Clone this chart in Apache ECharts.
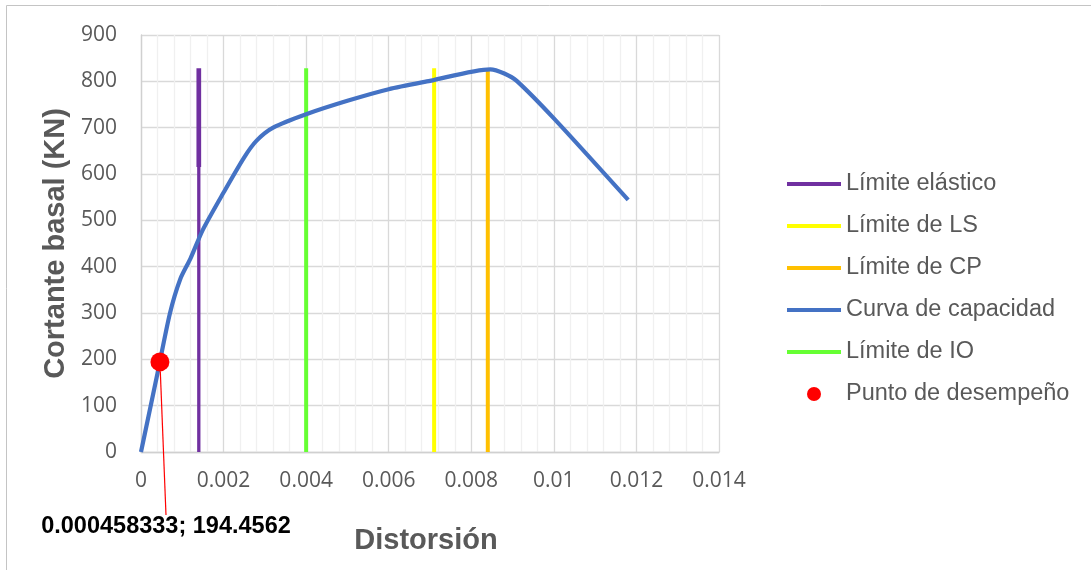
<!DOCTYPE html>
<html>
<head>
<meta charset="utf-8">
<script src="https://cdn.jsdelivr.net/npm/echarts@6/dist/echarts.min.js"></script>
<style>
  html, body { margin: 0; padding: 0; background: #ffffff; }
  #chart { width: 1091px; height: 570px; }
</style>
</head>
<body>
<div id="chart"></div>
<script>
// Axis ticks
const driftTicks = [0, 0.002, 0.004, 0.006, 0.008, 0.01, 0.012, 0.014];
const shearTicks = [0, 100, 200, 300, 400, 500, 600, 700, 800, 900];

// Capacity curve (drift, base shear in kN)
const curveDrift = [0, 0.0004, 0.0007, 0.00095, 0.0012, 0.0015, 0.002, 0.0025, 0.0028, 0.0032, 0.004, 0.005, 0.006, 0.007, 0.00846, 0.0088, 0.0091, 0.01, 0.0118];
const curveShear = [0, 170, 299, 373, 418, 480, 560, 636, 672, 700, 729, 758, 783, 801, 826, 817, 801, 720, 544];

// Performance limits (drift) and their drawn height
const elasticLimit = 0.0014;
const ioLimit = 0.004;
const lsLimit = 0.0071;
const cpLimit = 0.0084;
const limitTop = 828;
const elasticBreak = 615;

// Performance point
const perfDrift = 0.000458333;
const perfShear = 194.4562;

const TXT = '#595959';

function vline(x, y0, y1) { return [[x, y0], [x, y1]]; }

function limitSeries(name, data, color, width) {
  return {
    name: name,
    type: 'line',
    data: data,
    symbol: 'none',
    lineStyle: { color: color, width: width },
    itemStyle: { color: color },
    z: 2
  };
}

// legend entry drawn as a plain line, no marker
function lineEntry(name) {
  return { name: name, itemStyle: { opacity: 0 }, lineStyle: { width: 4 } };
}

const chart = echarts.init(document.getElementById('chart'), null, { renderer: 'canvas' });

chart.setOption({
  backgroundColor: '#ffffff',
  animation: false,
  graphic: [{
    type: 'rect',
    shape: { x: 6.5, y: 5.5, width: 1300, height: 800 },
    style: { fill: 'none', stroke: '#c4c4c4', lineWidth: 1 },
    silent: true,
    z: -10
  }],
  grid: { left: 141, top: 35, width: 578, height: 417, containLabel: false },
  legend: {
    orient: 'vertical',
    left: 785,
    top: 172,
    padding: 0,
    itemWidth: 54,
    itemHeight: 14,
    itemGap: 18,
    textStyle: { fontFamily: 'Liberation Sans, Arial, sans-serif', fontSize: 23.5, color: TXT },
    data: [
      lineEntry('Límite elástico'),
      lineEntry('Límite de LS'),
      lineEntry('Límite de CP'),
      lineEntry('Curva de capacidad'),
      lineEntry('Límite de IO'),
      { name: 'Punto de desempeño', icon: 'circle', itemStyle: { color: '#ff0000' } }
    ]
  },
  xAxis: {
    type: 'value',
    min: driftTicks[0],
    max: driftTicks[driftTicks.length - 1],
    interval: driftTicks[1] - driftTicks[0],
    name: 'Distorsión',
    nameLocation: 'middle',
    nameGap: 74,
    nameTextStyle: { fontFamily: 'Liberation Sans, Arial, sans-serif', fontSize: 29, fontWeight: 'bold', color: TXT, padding: [0, 8, 0, 0] },
    axisLine: { show: true, lineStyle: { color: '#d0d0d0', width: 1.3 } },
    axisTick: { show: false },
    minorTick: { show: false, splitNumber: 5 },
    splitLine: { show: true, lineStyle: { color: '#d9d9d9', width: 1.3 } },
    minorSplitLine: { show: true, lineStyle: { color: '#f0f0f0', width: 1.3 } },
    axisLabel: {
      margin: 19,
      fontFamily: 'Open Sans, sans-serif',
      fontSize: 21,
      color: TXT,
      formatter: function (v) { return String(+v.toFixed(3)); }
    }
  },
  yAxis: {
    type: 'value',
    min: shearTicks[0],
    max: shearTicks[shearTicks.length - 1],
    interval: shearTicks[1] - shearTicks[0],
    name: 'Cortante basal (KN)',
    nameLocation: 'middle',
    nameRotate: 90,
    nameGap: 61,
    nameTextStyle: { fontFamily: 'Liberation Sans, Arial, sans-serif', fontSize: 29, fontWeight: 'bold', color: TXT },
    axisLine: { show: true, lineStyle: { color: '#d0d0d0', width: 1.3 } },
    axisTick: { show: false },
    splitLine: { show: true, lineStyle: { color: '#d9d9d9', width: 1.3 } },
    axisLabel: { margin: 24, fontFamily: 'Open Sans, sans-serif', fontSize: 21, color: TXT }
  },
  series: [
    limitSeries('Límite elástico', vline(elasticLimit, 0, elasticBreak), '#7030a0', 3.3),
    limitSeries('Límite elástico', vline(elasticLimit, elasticBreak, limitTop), '#7030a0', 4.7),
    limitSeries('Límite de LS', vline(lsLimit, 0, limitTop), '#ffff00', 4),
    limitSeries('Límite de CP', vline(cpLimit, 0, limitTop), '#ffc000', 4),
    {
      name: 'Curva de capacidad',
      type: 'line',
      data: curveDrift.map(function (x, i) { return [x, curveShear[i]]; }),
      symbol: 'none',
      smooth: 0.25,
      lineStyle: { color: '#4472c4', width: 4.2 },
      itemStyle: { color: '#4472c4' },
      z: 3
    },
    limitSeries('Límite de IO', vline(ioLimit, 0, limitTop), '#66ff33', 4),
    {
      name: 'Punto de desempeño',
      type: 'scatter',
      data: [[perfDrift, perfShear]],
      symbol: 'circle',
      symbolSize: 19,
      itemStyle: { color: '#ff0000', opacity: 1 },
      z: 5,
      label: {
        show: true,
        formatter: function (p) { return p.value[0] + '; ' + p.value[1]; },
        fontFamily: 'Liberation Sans, Arial, sans-serif',
        fontSize: 23.5,
        fontWeight: 'bold',
        color: '#000000',
        padding: [22, 0, 0, 0]
      },
      labelLayout: { x: 166, y: 493, align: 'center', verticalAlign: 'top', moveOverlap: false },
      labelLine: { show: true, lineStyle: { color: '#ff0000', width: 1.2 } }
    }
  ]
});
</script>
</body>
</html>
